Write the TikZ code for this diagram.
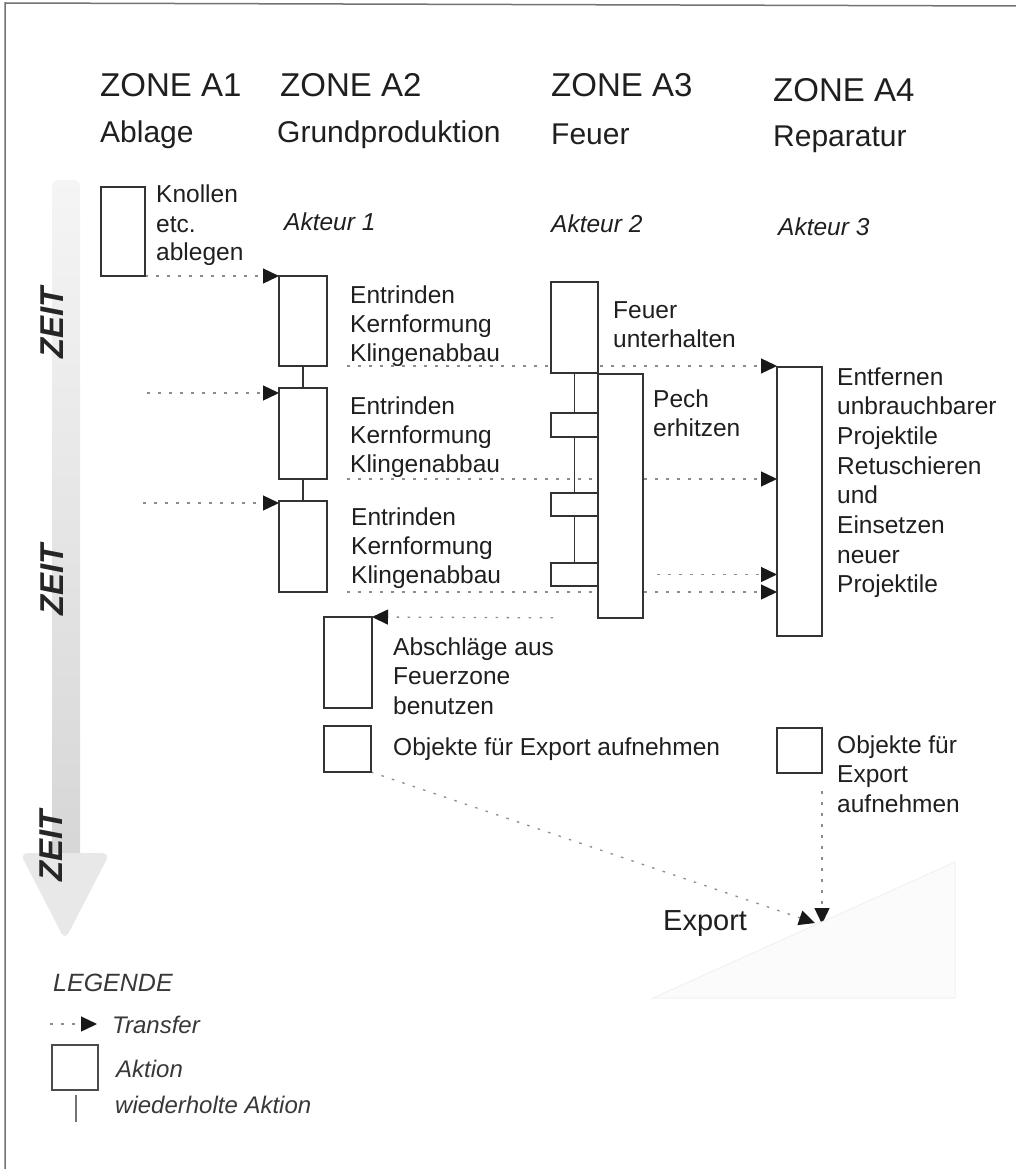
\documentclass[tikz,border=0pt]{standalone}
\usepackage{fontspec}
\setmainfont{Liberation Sans}
\usetikzlibrary{arrows.meta,calc,backgrounds}
\newcommand{\ml}[1]{\begin{tabular}[t]{@{}l@{}}#1\end{tabular}}
\begin{document}
\begin{tikzpicture}[x=1pt,y=-1pt,
  txt/.style={anchor=base west,inner sep=0pt,text=black!88},
  title/.style={txt,font=\fontsize{33}{38}\selectfont},
  sub/.style={txt,font=\fontsize{30}{36}\selectfont},
  body/.style={txt,font=\fontsize{24.5}{29}\selectfont},
  bodyr/.style={txt,font=\fontsize{24.5}{29.7}\selectfont},
  actor/.style={txt,font=\fontsize{24.5}{29}\selectfont\itshape},
  legtxt/.style={txt,font=\fontsize{24}{29}\selectfont\itshape,text=black!78},
  act/.style={draw=black!80,line width=1.3pt,fill=white,inner sep=0pt,outer sep=0pt,anchor=north west},
  rep/.style={draw=black!80,line width=1.3pt},
  transfer/.style={draw=black!45,line width=1.3pt,dash pattern=on 2.5pt off 8.5pt,
     -{Triangle[length=16pt,width=15pt,fill=black!90,color=black!90]}},
  zeit/.style={inner sep=0pt,rotate=90,font=\fontsize{33}{38}\selectfont\bfseries\itshape,text=black!85}
]
\useasboundingbox (0,0) rectangle (1016,1169);

% frame (left and top edges only)
\draw[black!55,line width=1.5pt] (5,1169) -- (5,3) -- (1016,6);

% faint triangle
\draw[black!5,fill=black!1.5,line width=1pt] (653,998) -- (955,862) -- (955,998) -- cycle;

% time arrow
\shade[top color=black!4,bottom color=black!16,rounded corners=6pt]
  (52,860) -- (52,180) -- (80,180) -- (80,860) -- cycle;
\fill[black!9,rounded corners=8pt] (20,853) -- (110,853) -- (65,940) -- cycle;
\node[zeit] (z1) at (52,323) {ZEIT};
\node[zeit] (z2) at (52,580) {ZEIT};
\node[zeit] (z3) at (51,846) {ZEIT};

% headings
\node[title] (h1) at (100,97) {ZONE A1};
\node[title] (h2) at (280,97) {ZONE A2};
\node[title] (h3) at (551,97) {ZONE A3};
\node[title] (h4) at (773,102) {ZONE A4};
\node[sub] (s1) at (100,143) {Ablage};
\node[sub] (s2t) at (277,143) {Grundproduktion};
\node[sub] (s3t) at (551,145) {Feuer};
\node[sub] (s4t) at (773,147) {Reparatur};
\node[actor] (a1) at (284,230) {Akteur 1};
\node[actor] (a2) at (551,232) {Akteur 2};
\node[actor] (a3) at (778,235) {Akteur 3};

% action boxes
\node[act,minimum width=44pt,minimum height=89pt] (K) at (101,187) {};
\node[act,minimum width=48pt,minimum height=90pt] (E1) at (279,276) {};
\node[act,minimum width=48pt,minimum height=91pt] (E2) at (279,388) {};
\node[act,minimum width=48pt,minimum height=91pt] (E3) at (279,501) {};
\node[act,minimum width=47pt,minimum height=91pt] (F) at (551,282) {};
\node[act,minimum width=47pt,minimum height=24pt] (T1) at (551,413) {};
\node[act,minimum width=47pt,minimum height=23pt] (T2) at (551,493) {};
\node[act,minimum width=47pt,minimum height=23pt] (T3) at (551,563) {};
\node[act,minimum width=45pt,minimum height=244pt] (P) at (598,374) {};
\node[act,minimum width=45pt,minimum height=269pt] (R) at (777,367) {};
\node[act,minimum width=48pt,minimum height=91pt] (A) at (324,617) {};
\node[act,minimum width=47pt,minimum height=46pt] (O1) at (324,726) {};
\node[act,minimum width=45pt,minimum height=45pt] (O2) at (777,728) {};

% repeated actions
\draw[rep] (E1.south) -- (E2.north);
\draw[rep] (E2.south) -- (E3.north);
\draw[rep] (F.south) -- (T1.north);
\draw[rep] (T1.south) -- (T2.north);
\draw[rep] (T2.south) -- (T3.north);

% labels
\node[body] (tK) at (156,203) {\ml{Knollen\\etc.\\ablegen}};
\node[body] (tE1) at (350,303) {\ml{Entrinden\\Kernformung\\Klingenabbau}};
\node[body] (tE2) at (350,414) {\ml{Entrinden\\Kernformung\\Klingenabbau}};
\node[body] (tE3) at (351,525) {\ml{Entrinden\\Kernformung\\Klingenabbau}};
\node[body] (tF) at (613,318) {\ml{Feuer\\unterhalten}};
\node[body] (tP) at (653,407) {\ml{Pech\\erhitzen}};
\node[bodyr] (tR) at (837,385) {\ml{Entfernen\\unbrauchbarer\\Projektile\\Retuschieren\\und\\Einsetzen\\neuer\\Projektile}};
\node[bodyr] (tA) at (393,655) {\ml{Abschläge aus\\Feuerzone\\benutzen}};
\node[body] (tO1) at (393,755) {Objekte für Export aufnehmen};
\node[bodyr] (tO2) at (837,753) {\ml{Objekte für\\Export\\aufnehmen}};
\node[txt,font=\fontsize{29}{34}\selectfont] (ex) at (663,930) {Export};

% transfers
\coordinate (c2) at (147,393);
\coordinate (c3) at (143,503);
\coordinate (exp) at (820,924);
\begin{scope}[on background layer]
\draw[transfer] (K.south east) -- (K.south east -| E1.west);
\draw[transfer] (c2) -- (c2 -| E2.west);
\draw[transfer] (c3) -- (c3 -| E3.west);
\draw[transfer,shorten <=20pt] (E1.south east) -- (E1.south east -| R.west);
\draw[transfer,shorten <=20pt] (E2.south east) -- (E2.south east -| R.west);
\draw[transfer,shorten <=20pt] (E3.south east) -- (E3.south east -| R.west);
\draw[transfer,shorten <=14pt] (P.east |- T3.center) -- (T3.center -| R.west);
\draw[transfer,shorten <=45pt] (P.south west) -- (A.north east);
\draw[transfer,shorten <=18pt] (O2.south east) -- (O2.south east |- exp);
\draw[transfer] (O1.south east) -- ($(exp)+(-5,-1)$);
\end{scope}

% legend
\node[txt,font=\fontsize{25}{30}\selectfont\itshape,text=black!78] (lg) at (53,991) {LEGENDE};
\coordinate (l0) at (50,1024);
\coordinate (l1) at (97,1024);
\draw[transfer] (l0) -- (l1);
\node[legtxt] (lt) at (112,1033) {Transfer};
\node[act,draw=black!70,minimum width=46pt,minimum height=45pt] (L) at (52,1045) {};
\node[legtxt] (la) at (116,1077) {Aktion};
\coordinate (r0) at (76,1095);
\coordinate (r1) at (76,1122);
\draw[black!55,line width=1.3pt] (r0) -- (r1);
\node[legtxt] (lw) at (115,1113) {wiederholte Aktion};
\end{tikzpicture}
\end{document}
